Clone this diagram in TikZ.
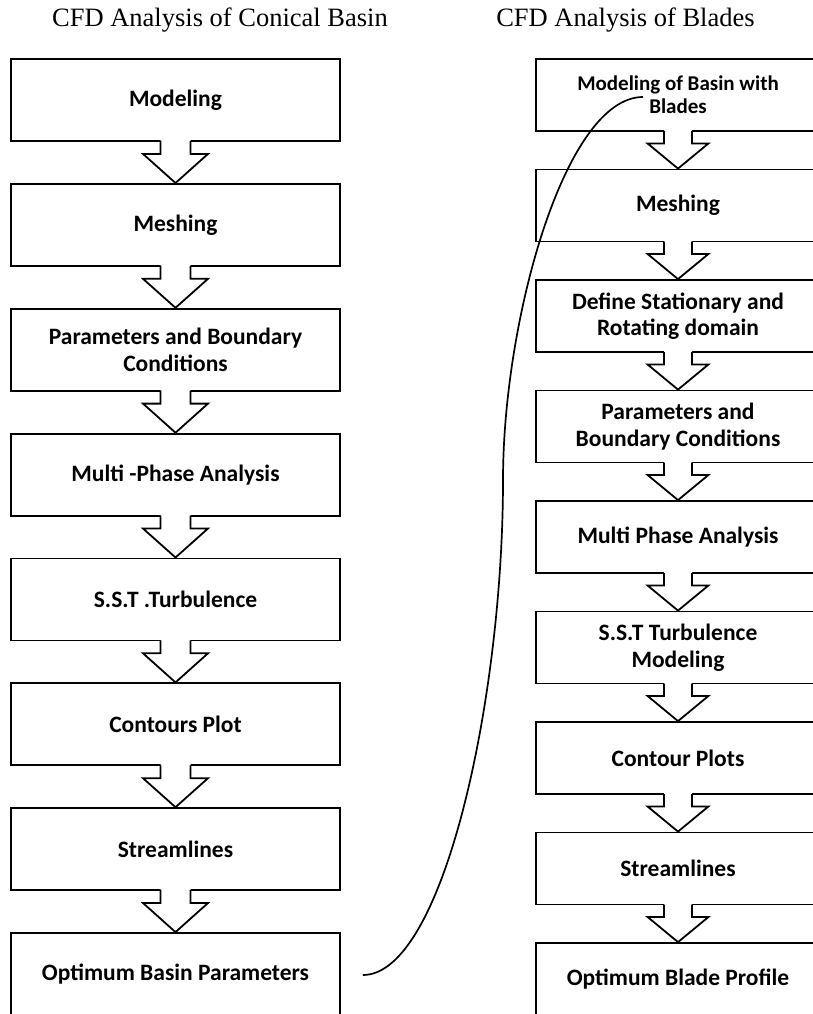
\documentclass[tikz,border=0pt]{standalone}
\usepackage{fontspec}
\setmainfont{Liberation Serif}
\newfontfamily\boxfont{Carlito}
\usetikzlibrary{calc}
\newcommand\blockarrow[5]{% #1 from, #2 to, #3 stem half width, #4 head half width, #5 stem length
  \fill[white] ($(#1.south)+(-#3,-2)$) -- ($(#1.south)+(#3,-2)$) -- ($(#1.south)+(#3,#5)$)
     -- ($(#1.south)+(#4,#5)$) -- (#2.north) -- ($(#1.south)+(-#4,#5)$) -- ($(#1.south)+(-#3,#5)$) -- cycle;
  \draw[arrowline] ($(#1.south)+(-#3,-0.9)$) -- ($(#1.south)+(-#3,#5)$) -- ($(#1.south)+(-#4,#5)$)
     -- (#2.north) -- ($(#1.south)+(#4,#5)$) -- ($(#1.south)+(#3,#5)$) -- ($(#1.south)+(#3,-0.9)$);
}
\begin{document}
\begin{tikzpicture}[x=1pt,y=-1pt,
  boxtext/.style={font={\boxfont\bfseries\fontsize{23.5}{26.5}\selectfont}},
  lbox/.style={draw,line width=1.8pt,minimum width=329pt,minimum height=82pt,inner sep=0pt,align=center,boxtext},
  rbox/.style={draw,line width=1.8pt,minimum width=284pt,minimum height=72pt,inner sep=0pt,align=center,boxtext},
  title/.style={font={\fontsize{26.5}{30}\selectfont},anchor=base,inner sep=0pt},
  arrowline/.style={line width=1.8pt,line join=miter},
  link/.style={line width=1.7pt}]
\useasboundingbox (0,0) rectangle (812,1014);
% titles
\node[title] (TL) at (220,26.5) {CFD Analysis of Conical Basin};
\node[title] (TR) at (625.5,26.5) {CFD Analysis of Blades};
% left column
\node[lbox] (L1) at (175.5,100.0) {Modeling};
\node[lbox] (L2) at (175.5,224.9) {Meshing};
\node[lbox] (L3) at (175.5,349.7) {Parameters and Boundary\\Conditions};
\node[lbox] (L4) at (175.5,474.6) {Multi -Phase Analysis};
\node[lbox] (L5) at (175.5,599.4) {S.S.T .Turbulence};
\node[lbox] (L6) at (175.5,724.3) {Contours Plot};
\node[lbox] (L7) at (175.5,849.1) {Streamlines};
\node[lbox] (L8) at (175.5,974.0) {Optimum Basin Parameters};
% right column
\node[rbox,font={\boxfont\bfseries\fontsize{21}{23}\selectfont}] (R1) at (678,95.0) {Modeling of Basin with\\Blades};
\node[rbox] (R2) at (678,205.5) {Meshing};
\node[rbox] (R3) at (678,316.0) {Define Stationary and\\Rotating domain};
\node[rbox] (R4) at (678,426.5) {Parameters and\\Boundary Conditions};
\node[rbox] (R5) at (678,537.0) {Multi Phase Analysis};
\node[rbox] (R6) at (678,647.5) {S.S.T Turbulence\\Modeling};
\node[rbox] (R7) at (678,758.0) {Contour Plots};
\node[rbox] (R8) at (678,868.5) {Streamlines};
\node[rbox] (R9) at (678,979.0) {Optimum Blade Profile};
% block arrows
\foreach \a/\b in {L1/L2,L2/L3,L3/L4,L4/L5,L5/L6,L6/L7,L7/L8}{\blockarrow{\a}{\b}{15}{32.5}{12}}
\foreach \a/\b in {R1/R2,R2/R3,R3/R4,R4/R5,R5/R6,R6/R7,R7/R8,R8/R9}{\blockarrow{\a}{\b}{14}{30.5}{11.5}}
% curved link
\coordinate (cs) at ($(L8.east)+(22,1)$);
\coordinate (ce) at ($(R1.center)+(-35,2)$);
\draw[link] (cs) .. controls ($(cs)+(80,0)$) and (503,700) .. (503,480)
  .. controls (503,320) and (565,97) .. (ce);
\end{tikzpicture}
\end{document}
